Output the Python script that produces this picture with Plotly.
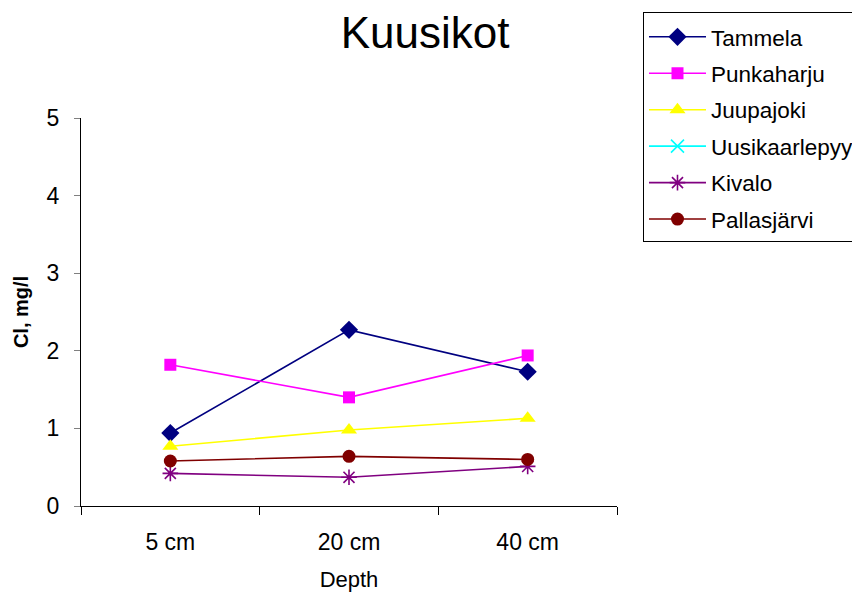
import plotly.graph_objects as go

categories = ["5 cm", "20 cm", "40 cm"]
tammela = [0.94, 2.27, 1.73]
punkaharju = [1.82, 1.40, 1.94]
juupajoki = [0.77, 0.98, 1.13]
uusikaarlepyy = [None, None, None]
kivalo = [0.42, 0.37, 0.51]
pallasjarvi = [0.58, 0.64, 0.60]

series = [
    ("Tammela", tammela, "#000080", "diamond", 14),
    ("Punkaharju", punkaharju, "#FF00FF", "square", 12),
    ("Juupajoki", juupajoki, "#FFFF00", "triangle-up", 14),
    ("Uusikaarlepyy", uusikaarlepyy, "#00FFFF", "x-thin-open", 13),
    ("Kivalo", kivalo, "#800080", "asterisk-open", 13),
    ("Pallasjärvi", pallasjarvi, "#800000", "circle", 13),
]

fig = go.Figure()
for i, (name, vals, color, sym, size) in enumerate(series):
    open_sym = sym.endswith("open")
    fig.add_trace(go.Scatter(
        x=categories, y=vals, name=name, mode="lines+markers",
        line=dict(color=color, width=1.6),
        marker=dict(symbol=sym, size=size, color=color,
                    line=dict(color=color, width=1.6 if open_sym else 0)),
        legendgroup=f"g{i}",
    ))

font = "Liberation Sans, Arial, sans-serif"
fig.update_layout(
    width=860, height=596,
    margin=dict(l=73, r=251, t=110, b=98, autoexpand=False),
    paper_bgcolor="white", plot_bgcolor="white",
    font=dict(family=font, size=23, color="black"),
    title=dict(text="Kuusikot", x=0.485, xanchor="center", y=0.958, yanchor="middle",
               font=dict(size=44, family=font, color="black")),
    showlegend=True,
    legend=dict(x=1.0485, xanchor="left", y=1.273, yanchor="top",
                bordercolor="black", borderwidth=1, bgcolor="white",
                font=dict(size=22.5, family=font), tracegroupgap=4.2,
                itemwidth=57,
                title=dict(text=" ", font=dict(size=2))),
    xaxis=dict(type="category", range=[-0.5, 2.5], showline=True, linecolor="black",
               linewidth=1, ticks="outside", tickson="boundaries", ticklen=8,
               tickcolor="black", showgrid=False, zeroline=False,
               ticklabelstandoff=15,
               title=dict(text="Depth", font=dict(size=22), standoff=18),
               tickfont=dict(size=23)),
    yaxis=dict(range=[0, 5], dtick=1, showline=True, linecolor="black", linewidth=1,
               ticks="outside", ticklen=6, tickcolor="gray", showgrid=False,
               zeroline=False, ticklabelstandoff=10,
               title=dict(text="<b>Cl, mg/l</b>", font=dict(size=20), standoff=12),
               tickfont=dict(size=23)),
)

fig.write_html("out.html")
